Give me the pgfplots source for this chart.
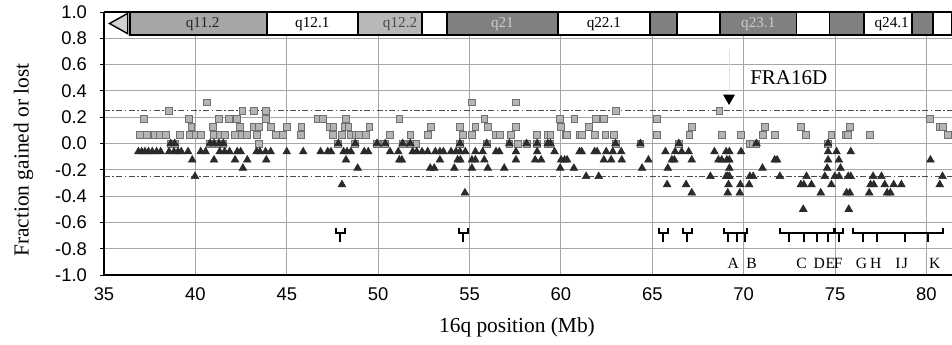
\documentclass[border=0pt]{standalone}
\usepackage{fontspec}
\setmainfont{Liberation Serif}
\newfontfamily\arial{Liberation Sans}
\usepackage{pgfplots}
\pgfplotsset{compat=1.18}
\pgfdeclareplotmark{bp}{%
  \pgfpathmoveto{\pgfqpoint{-2.2pt}{2.6pt}}%
  \pgfpathlineto{\pgfqpoint{-2.2pt}{0pt}}%
  \pgfpathlineto{\pgfqpoint{2.2pt}{0pt}}%
  \pgfpathlineto{\pgfqpoint{2.2pt}{2.6pt}}%
  \pgfpathmoveto{\pgfqpoint{0pt}{0pt}}%
  \pgfpathlineto{\pgfqpoint{0pt}{-4.6pt}}%
  \pgfusepathqstroke}
\pgfdeclareplotmark{stem}{%
  \pgfpathmoveto{\pgfqpoint{0pt}{0pt}}%
  \pgfpathlineto{\pgfqpoint{0pt}{-4.6pt}}%
  \pgfusepathqstroke}
\definecolor{bandmid}{HTML}{A6A6A6}
\definecolor{bandlight}{HTML}{B8B8B8}
\definecolor{banddark}{HTML}{808080}
\definecolor{sqfill}{HTML}{B4B4B4}
\definecolor{sqdraw}{HTML}{707070}
\definecolor{tri}{HTML}{2A2A2A}
\begin{document}
\begin{tikzpicture}
\begin{axis}[
  at={(0,0)}, anchor=south west, scale only axis,
  width=424pt, height=131.5pt,
  xmin=35, xmax=81.4, ymin=-1, ymax=1,
  axis lines*=left,
  axis line style={line width=1.2pt, black},
  clip mode=individual,
  grid=major,
  grid style={gray!70, line width=0.45pt},
  xtick={35,40,45,50,55,60,65,70,75,80},
  ytick={-1,-0.8,-0.6,-0.4,-0.2,0,0.2,0.4,0.6,0.8,1},
  yticklabels={-1.0,-0.8,-0.6,-0.4,-0.2,0.0,0.2,0.4,0.6,0.8,1.0},
  /pgf/number format/assume math mode=true,
  tick label style={font=\arial\fontsize{9.2}{10}\selectfont},
  x tick style={draw=none},
  y tick style={black, line width=0.5pt},
  tick align=outside, major tick length=2pt,
  yticklabel style={xshift=-3pt},
  xticklabel style={yshift=-1pt},
  xlabel={16q position (Mb)},
  ylabel={Fraction gained or lost},
  label style={font=\fontsize{10.7}{12}\selectfont},
  xlabel style={at={(axis description cs:0.487,-0.198)}, anchor=center},
  ylabel style={at={(axis description cs:-0.095,0.437)}, anchor=center, rotate=0},
]
% thresholds
\addplot[gray!60!black, line width=0.6pt, dash pattern=on 3pt off 1.2pt on 0.8pt off 1.2pt] coordinates {(35,0.25) (81.4,0.25)};
\addplot[gray!60!black, line width=0.6pt, dash pattern=on 3pt off 1.2pt on 0.8pt off 1.2pt] coordinates {(35,-0.25) (81.4,-0.25)};
% ideogram
\addplot[fill=gray!35, draw=black, line width=0.7pt] coordinates {(35.3,0.9125) (36.3,0.99) (36.3,0.835)} -- cycle;
\addplot[fill=bandmid, draw=black, line width=0.8pt] coordinates {(36.42,0.825) (43.92,0.825) (43.92,1) (36.42,1)} -- cycle;
\addplot[fill=white, draw=black, line width=0.8pt] coordinates {(43.92,0.825) (48.9,0.825) (48.9,1) (43.92,1)} -- cycle;
\addplot[fill=bandlight, draw=black, line width=0.8pt] coordinates {(48.9,0.825) (52.4,0.825) (52.4,1) (48.9,1)} -- cycle;
\addplot[fill=white, draw=black, line width=0.8pt] coordinates {(52.4,0.825) (53.76,0.825) (53.76,1) (52.4,1)} -- cycle;
\addplot[fill=banddark, draw=black, line width=0.8pt] coordinates {(53.76,0.825) (59.84,0.825) (59.84,1) (53.76,1)} -- cycle;
\addplot[fill=white, draw=black, line width=0.8pt] coordinates {(59.84,0.825) (64.87,0.825) (64.87,1) (59.84,1)} -- cycle;
\addplot[fill=banddark, draw=black, line width=0.8pt] coordinates {(64.87,0.825) (66.35,0.825) (66.35,1) (64.87,1)} -- cycle;
\addplot[fill=white, draw=black, line width=0.8pt] coordinates {(66.35,0.825) (68.7,0.825) (68.7,1) (66.35,1)} -- cycle;
\addplot[fill=banddark, draw=black, line width=0.8pt] coordinates {(68.7,0.825) (72.9,0.825) (72.9,1) (68.7,1)} -- cycle;
\addplot[fill=white, draw=black, line width=0.8pt] coordinates {(72.9,0.825) (74.7,0.825) (74.7,1) (72.9,1)} -- cycle;
\addplot[fill=banddark, draw=black, line width=0.8pt] coordinates {(74.7,0.825) (76.6,0.825) (76.6,1) (74.7,1)} -- cycle;
\addplot[fill=white, draw=black, line width=0.8pt] coordinates {(76.6,0.825) (79.2,0.825) (79.2,1) (76.6,1)} -- cycle;
\addplot[fill=banddark, draw=black, line width=0.8pt] coordinates {(79.2,0.825) (80.35,0.825) (80.35,1) (79.2,1)} -- cycle;
\addplot[fill=white, draw=black, line width=0.8pt] coordinates {(80.35,0.825) (81.4,0.825) (81.4,1) (80.35,1)} -- cycle;
\node[font=\fontsize{7.6}{8}\selectfont, text=black!85] at (axis cs:40.4,0.905) {q11.2};
\node[font=\fontsize{7.6}{8}\selectfont] at (axis cs:46.4,0.905) {q12.1};
\node[font=\fontsize{7.6}{8}\selectfont, text=black!70] at (axis cs:51.2,0.905) {q12.2};
\node[font=\fontsize{7.6}{8}\selectfont, text=gray!40] at (axis cs:56.8,0.905) {q21};
\node[font=\fontsize{7.6}{8}\selectfont] at (axis cs:62.35,0.905) {q22.1};
\node[font=\fontsize{7.6}{8}\selectfont, text=gray!40] at (axis cs:70.8,0.905) {q23.1};
\node[font=\fontsize{7.6}{8}\selectfont] at (axis cs:78.1,0.905) {q24.1};
% gains (squares)
\addplot[only marks, mark=square*, mark size=1.7pt, mark options={fill=sqfill, draw=sqdraw, line width=0.4pt}] table {
x y
40.65 0.3125
55.13 0.3125
57.54 0.3125
38.56 0.25
42.57 0.25
43.2 0.25
43.84 0.25
63.02 0.25
68.67 0.25
37.19 0.1875
39.65 0.1875
41.29 0.1875
41.84 0.1875
42.29 0.1875
43.84 0.1875
46.72 0.1875
46.96 0.1875
48.24 0.1875
51.16 0.1875
55.81 0.1875
59.96 0.1875
60.74 0.1875
61.93 0.1875
62.35 0.1875
65.27 0.1875
80.18 0.1875
39.78 0.125
40.96 0.125
42.44 0.125
43.2 0.125
43.48 0.125
44.12 0.125
45.0 0.125
45.8 0.125
47.33 0.125
47.55 0.125
48.15 0.125
48.37 0.125
49.52 0.125
52.89 0.125
54.48 0.125
55.32 0.125
56.0 0.125
57.54 0.125
60.01 0.125
61.53 0.125
67.16 0.125
71.16 0.125
73.11 0.125
75.81 0.125
80.73 0.125
80.91 0.125
36.97 0.0625
37.33 0.0625
37.77 0.0625
38.06 0.0625
38.37 0.0625
39.16 0.0625
39.69 0.0625
40.01 0.0625
40.32 0.0625
41.02 0.0625
41.33 0.0625
41.6 0.0625
42.17 0.0625
42.53 0.0625
42.8 0.0625
43.35 0.0625
44.39 0.0625
44.81 0.0625
45.76 0.0625
47.51 0.0625
48.02 0.0625
48.51 0.0625
48.79 0.0625
48.93 0.0625
49.34 0.0625
50.65 0.0625
51.76 0.0625
52.71 0.0625
54.62 0.0625
55.13 0.0625
56.45 0.0625
56.67 0.0625
57.27 0.0625
58.7 0.0625
59.28 0.0625
59.43 0.0625
60.25 0.0625
60.34 0.0625
61.02 0.0625
61.14 0.0625
61.84 0.0625
62.44 0.0625
62.89 0.0625
65.27 0.0625
67.03 0.0625
68.8 0.0625
69.83 0.0625
71.07 0.0625
71.7 0.0625
73.4 0.0625
74.8 0.0625
75.59 0.0625
75.72 0.0625
76.9 0.0625
81.19 0.0625
43.48 0
52.07 0
57.63 0
70.34 0
70.52 0
38.65 0
38.87 0
40.8 0
41.02 0
41.29 0
41.53 0
47.82 0
48.75 0
49.94 0
50.39 0
51.34 0
51.76 0
54.48 0
55.94 0
57.18 0
58.12 0
58.7 0
59.28 0
59.43 0
62.99 0
64.35 0
66.45 0
70.7 0
74.62 0
};
% losses (triangles)
\addplot[only marks, mark=triangle*, mark size=2.2pt, mark options={fill=tri, draw=tri, line width=0.3pt}] table {
x y
38.65 0
38.87 0
40.8 0
41.02 0
41.29 0
41.53 0
47.82 0
48.75 0
49.94 0
50.39 0
51.34 0
51.76 0
54.48 0
55.94 0
57.18 0
58.12 0
58.7 0
59.28 0
59.43 0
62.99 0
64.35 0
66.45 0
70.7 0
74.62 0
36.88 -0.0625
37.06 -0.0625
37.24 -0.0625
37.43 -0.0625
37.64 -0.0625
37.88 -0.0625
38.1 -0.0625
38.56 -0.0625
38.83 -0.0625
39.05 -0.0625
39.23 -0.0625
39.6 -0.0625
40.29 -0.0625
40.56 -0.0625
41.33 -0.0625
41.6 -0.0625
41.87 -0.0625
42.29 -0.0625
42.48 -0.0625
43.35 -0.0625
43.53 -0.0625
43.84 -0.0625
44.12 -0.0625
45.0 -0.0625
45.9 -0.0625
46.85 -0.0625
47.24 -0.0625
47.42 -0.0625
48.11 -0.0625
48.3 -0.0625
48.51 -0.0625
49.24 -0.0625
49.46 -0.0625
50.65 -0.0625
51.1 -0.0625
51.89 -0.0625
52.11 -0.0625
52.4 -0.0625
52.71 -0.0625
53.13 -0.0625
53.38 -0.0625
53.57 -0.0625
53.99 -0.0625
54.26 -0.0625
54.48 -0.0625
54.77 -0.0625
55.32 -0.0625
55.72 -0.0625
56.45 -0.0625
56.63 -0.0625
57.54 -0.0625
58.7 -0.0625
59.65 -0.0625
61.02 -0.0625
61.14 -0.0625
61.84 -0.0625
61.98 -0.0625
62.48 -0.0625
62.84 -0.0625
63.3 -0.0625
65.72 -0.0625
66.25 -0.0625
66.61 -0.0625
66.99 -0.0625
68.4 -0.0625
69.04 -0.0625
69.22 -0.0625
69.86 -0.0625
74.62 -0.0625
75.08 -0.0625
75.86 -0.0625
39.83 -0.125
41.02 -0.125
42.17 -0.125
42.84 -0.125
43.88 -0.125
48.24 -0.125
51.16 -0.125
51.3 -0.125
53.38 -0.125
54.35 -0.125
54.5 -0.125
55.13 -0.125
55.32 -0.125
55.81 -0.125
57.54 -0.125
58.59 -0.125
58.92 -0.125
60.01 -0.125
60.2 -0.125
60.34 -0.125
62.35 -0.125
62.75 -0.125
63.33 -0.125
64.79 -0.125
66.07 -0.125
66.21 -0.125
67.16 -0.125
68.62 -0.125
68.8 -0.125
69.08 -0.125
69.22 -0.125
71.7 -0.125
71.83 -0.125
74.62 -0.125
75.21 -0.125
80.22 -0.125
42.6 -0.1875
48.88 -0.1875
52.85 -0.1875
53.07 -0.1875
54.17 -0.1875
55.13 -0.1875
56.0 -0.1875
56.9 -0.1875
59.96 -0.1875
60.71 -0.1875
64.44 -0.1875
65.85 -0.1875
69.22 -0.1875
71.03 -0.1875
74.57 -0.1875
75.3 -0.1875
39.98 -0.25
61.38 -0.25
62.07 -0.25
68.18 -0.25
69.04 -0.25
69.13 -0.25
69.22 -0.25
70.34 -0.25
70.52 -0.25
71.98 -0.25
73.44 -0.25
74.44 -0.25
74.99 -0.25
75.22 -0.25
75.72 -0.25
75.86 -0.25
77.08 -0.25
77.54 -0.25
80.88 -0.25
48.02 -0.3125
65.81 -0.3125
66.85 -0.3125
69.17 -0.3125
69.82 -0.3125
70.3 -0.3125
73.13 -0.3125
73.29 -0.3125
73.71 -0.3125
74.8 -0.3125
76.94 -0.3125
77.12 -0.3125
77.72 -0.3125
78.21 -0.3125
78.63 -0.3125
80.73 -0.3125
54.75 -0.375
67.16 -0.375
69.13 -0.375
69.79 -0.375
74.22 -0.375
75.63 -0.375
75.81 -0.375
76.87 -0.375
77.85 -0.375
78.03 -0.375
73.26 -0.5
75.75 -0.5
};
% FRA16D
\addplot[gray!25, line width=0.4pt] coordinates {(69.2,0.40) (69.2,0.72)};
\addplot[only marks, mark=triangle*, mark size=3pt, mark options={rotate=180, fill=black, draw=black}] coordinates {(69.2,0.345)};
\node[font=\fontsize{10.5}{12}\selectfont] at (axis cs:72.47,0.5) {FRA16D};
% breakpoint intervals
\addplot[only marks, mark=bp, mark options={line width=1pt, black}] coordinates {(47.94,-0.68) (54.66,-0.68) (65.6,-0.68) (66.91,-0.68) (75.2,-0.68)};
\addplot[black, line width=1pt] coordinates {(68.95,-0.64) (68.95,-0.68) (70.2,-0.68) (70.2,-0.64)};
\addplot[black, line width=1pt] coordinates {(71.98,-0.64) (71.98,-0.68) (75.0,-0.68) (75.0,-0.64)};
\addplot[black, line width=1pt] coordinates {(76.0,-0.64) (76.0,-0.68) (80.9,-0.68) (80.9,-0.64)};
\addplot[only marks, mark=stem, mark options={line width=1pt, black}] coordinates {(69.12,-0.68) (69.62,-0.68) (70.05,-0.68) (72.5,-0.68) (73.3,-0.68) (74.0,-0.68) (74.6,-0.68) (76.52,-0.68) (77.27,-0.68) (78.82,-0.68) (80.1,-0.68)};
\foreach \l/\p in {A/69.43,B/70.43,C/73.17,D/74.13,E/74.75,F/75.17,G/76.45,H/77.23,I/78.45,J/78.82,K/80.46}{
  \edef\temp{\noexpand\node[font=\noexpand\fontsize{7.8}{8}\noexpand\selectfont] at (axis cs:\p,-0.91) {\l};}
  \temp
}
\draw[black, line width=1.2pt] (rel axis cs:0,1) -- (rel axis cs:1,1);
\end{axis}
\pgfresetboundingbox
\path[use as bounding box] (-52pt,-34.5pt) rectangle (424pt,137.5pt);
\end{tikzpicture}
\end{document}
